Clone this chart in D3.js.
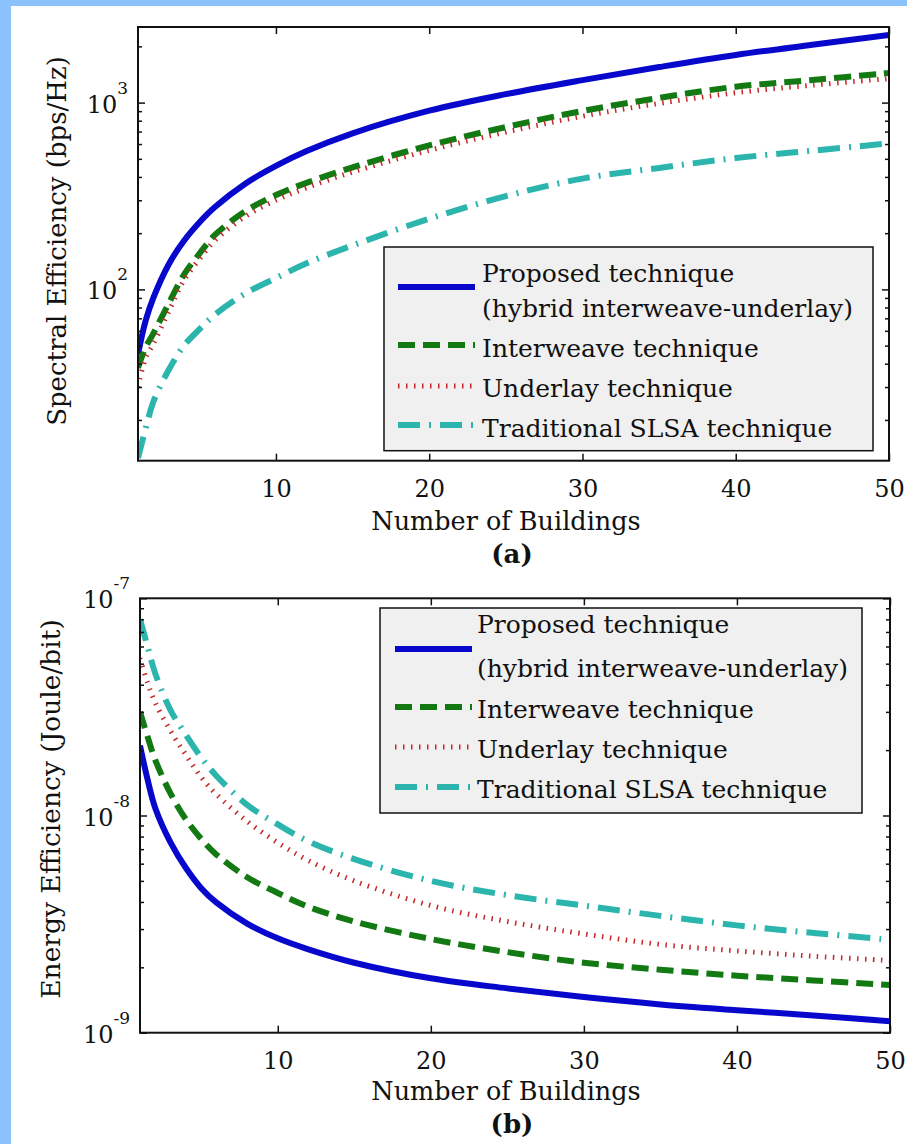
<!doctype html>
<html lang="en">
  <head>
    <meta charset="utf-8">
    <title>Spectral and Energy Efficiency vs Number of Buildings</title>
    <style>
      body { margin: 0; background: #8cc2fb; }
      text { font-family: "DejaVu Serif", "Liberation Serif", serif; fill: #111; }
      .tick line { stroke: #111; stroke-width: 1.5; }
    </style>
  </head>
  <body>
    <div id="main-chart"></div>

    <script src="https://d3js.org/d3.v7.min.js"></script>
    <script>
      // Data
      var buildings = [1, 1.5, 2, 3, 4, 5, 6, 8, 10, 12, 15, 20, 25, 30, 35, 40, 45, 50];
      var xTicks = [10, 20, 30, 40, 50];

      // (a) spectral efficiency, bps/Hz
      var seProposed    = [45, 68, 90, 136, 182, 228, 275, 368, 458, 550, 685, 905, 1110, 1320, 1550, 1800, 2040, 2300];
      var seInterweave  = [38, 49, 58, 84, 120, 155, 195, 262, 320, 372, 450, 590, 740, 902, 1060, 1216, 1321, 1440];
      var seUnderlay    = [30, 43, 51, 76, 112, 145, 182, 246, 300, 350, 425, 555, 695, 845, 990, 1130, 1240, 1345];
      var seTraditional = [12.5, 18, 25, 37, 50, 61, 73, 95, 115, 138, 172, 239, 316, 392, 447, 505, 553, 605];

      // (b) energy efficiency, Joule/bit
      var eeProposed    = [2.1e-8, 1.46e-8, 1.08e-8, 7.5e-9, 5.73e-9, 4.63e-9, 3.97e-9, 3.18e-9, 2.72e-9, 2.42e-9, 2.1e-9, 1.78e-9, 1.6e-9, 1.46e-9, 1.35e-9, 1.27e-9, 1.2e-9, 1.13e-9];
      var eeInterweave  = [3.0e-8, 2.3e-8, 1.8e-8, 1.26e-8, 9.6e-9, 7.8e-9, 6.6e-9, 5.2e-9, 4.4e-9, 3.8e-9, 3.25e-9, 2.7e-9, 2.35e-9, 2.1e-9, 1.95e-9, 1.83e-9, 1.74e-9, 1.66e-9];
      var eeUnderlay    = [5.3e-8, 4.07e-8, 3.3e-8, 2.45e-8, 1.9e-8, 1.5e-8, 1.25e-8, 9.4e-9, 7.5e-9, 6.2e-9, 5.0e-9, 3.85e-9, 3.25e-9, 2.85e-9, 2.55e-9, 2.38e-9, 2.25e-9, 2.15e-9];
      var eeTraditional = [8.0e-8, 5.98e-8, 4.5e-8, 3.05e-8, 2.35e-8, 1.85e-8, 1.52e-8, 1.12e-8, 9.1e-9, 7.6e-9, 6.3e-9, 5.0e-9, 4.3e-9, 3.85e-9, 3.45e-9, 3.12e-9, 2.88e-9, 2.68e-9];

      var legendLabels = [
        ["Proposed technique", "(hybrid interweave-underlay)"],
        ["Interweave technique"],
        ["Underlay technique"],
        ["Traditional SLSA technique"]
      ];

      // Line styles for the four techniques
      var styles = [
        {color: "#0808cc", width: 6, dash: null},
        {color: "#137a13", width: 6, dash: "17,8"},
        {color: "#c42828", width: 5, dash: "1.5,6.5"},
        {color: "#2bb5ad", width: 6, dash: "22,9,2,9"}
      ];

      var svg = d3.select("#main-chart")
        .append("svg")
        .attr("width", 907)
        .attr("height", 1144);

      // white sheet on the blue frame
      svg.append("rect")
        .attr("x", 11).attr("y", 6)
        .attr("width", 907 - 11).attr("height", 1144 - 6)
        .attr("fill", "#fff");

      function drawPanel(p) {
        var x = d3.scaleLinear().domain([1, 50]).range([p.left, p.right]);
        var y = d3.scaleLog().domain(p.yDomain).range([p.bottom, p.top]);

        var g = svg.append("g");

        // Clip
        g.append("clipPath").attr("id", p.id + "-clip")
          .append("rect")
          .attr("x", p.left).attr("y", p.top)
          .attr("width", p.right - p.left).attr("height", p.bottom - p.top);

        // Curves
        var line = d3.line()
          .x(function(d, i) { return x(buildings[i]); })
          .y(function(d) { return y(d); })
          .curve(d3.curveCatmullRom.alpha(0.5));

        var curves = g.append("g").attr("clip-path", "url(#" + p.id + "-clip)");
        p.series.forEach(function(s, i) {
          curves.append("path")
            .datum(s)
            .attr("d", line)
            .attr("fill", "none")
            .attr("stroke", styles[i].color)
            .attr("stroke-width", styles[i].width)
            .attr("stroke-dasharray", styles[i].dash)
            .attr("stroke-linejoin", "round");
        });

        // X axes, ticks pointing inward
        var minorY = y.ticks().filter(function(v) { return p.yMajor.indexOf(v) < 0; });

        var xb = g.append("g")
          .attr("transform", "translate(0," + p.bottom + ")")
          .call(d3.axisBottom(x).tickValues(xTicks).tickSize(-7));
        xb.select(".domain").remove();
        xb.selectAll("text")
          .attr("y", 36).attr("dy", null)
          .attr("font-size", "24px");

        var xt = g.append("g")
          .attr("transform", "translate(0," + p.top + ")")
          .call(d3.axisTop(x).tickValues(xTicks).tickSize(-7).tickFormat(""));
        xt.select(".domain").remove();

        // Y axes, majors and minors, both sides
        [["left", d3.axisLeft, p.left], ["right", d3.axisRight, p.right]].forEach(function(a) {
          var major = g.append("g")
            .attr("transform", "translate(" + a[2] + ",0)")
            .call(a[1](y).tickValues(p.yMajor).tickSize(-7).tickFormat(""));
          major.select(".domain").remove();
          var minor = g.append("g")
            .attr("transform", "translate(" + a[2] + ",0)")
            .call(a[1](y).tickValues(minorY).tickSize(-4).tickFormat(""));
          minor.select(".domain").remove();
        });

        // Y tick labels like 10^3
        p.yMajor.forEach(function(v) {
          var t = g.append("text")
            .attr("x", p.left - 10)
            .attr("y", y(v) + p.labelShift)
            .attr("text-anchor", "end")
            .attr("font-size", "24px");
          t.append("tspan").text("10");
          t.append("tspan")
            .attr("dy", -19)
            .attr("font-size", "17px")
            .text(String(Math.round(Math.log10(v))));
        });

        // Frame
        g.append("rect")
          .attr("x", p.left).attr("y", p.top)
          .attr("width", p.right - p.left).attr("height", p.bottom - p.top)
          .attr("fill", "none")
          .attr("stroke", "#111")
          .attr("stroke-width", 2);

        // Axis titles
        g.append("text")
          .attr("transform", "translate(" + p.yLabelX + "," + p.yLabelY + ")rotate(-90)")
          .attr("text-anchor", "middle")
          .attr("font-size", p.yLabelSize)
          .text(p.yLabel);

        g.append("text")
          .attr("x", 506).attr("y", p.xLabelY)
          .attr("text-anchor", "middle")
          .attr("font-size", "25.5px")
          .text("Number of Buildings");

        g.append("text")
          .attr("x", 512).attr("y", p.captionY)
          .attr("text-anchor", "middle")
          .attr("font-size", "26px")
          .attr("font-weight", "bold")
          .text(p.caption);

        // Legend
        var L = p.legend;
        g.append("rect")
          .attr("x", L.x0).attr("y", L.y0)
          .attr("width", L.x1 - L.x0).attr("height", L.y1 - L.y0)
          .attr("fill", "#f0f0f0")
          .attr("stroke", "#111")
          .attr("stroke-width", 1.5);

        legendLabels.forEach(function(lines, i) {
          g.append("line")
            .attr("x1", L.sampleX0).attr("x2", L.sampleX1)
            .attr("y1", L.sampleY[i]).attr("y2", L.sampleY[i])
            .attr("stroke", styles[i].color)
            .attr("stroke-width", styles[i].width)
            .attr("stroke-dasharray", styles[i].dash);
          lines.forEach(function(txt, j) {
            g.append("text")
              .attr("x", L.textX)
              .attr("y", L.baselines[i][j])
              .attr("font-size", "25px")
              .text(txt);
          });
        });
      }

      drawPanel({
        id: "a",
        left: 138, right: 889, top: 27, bottom: 460.7,
        yDomain: [12.1, 2540],
        yMajor: [100, 1000],
        labelShift: 10,
        series: [seProposed, seInterweave, seUnderlay, seTraditional],
        yLabel: "Spectral Efficiency (bps/Hz)",
        yLabelX: 66, yLabelY: 241, yLabelSize: "26px",
        xLabelY: 530, captionY: 563, caption: "(a)",
        legend: {
          x0: 384, x1: 873, y0: 247, y1: 450.7,
          sampleX0: 398, sampleX1: 475, textX: 482,
          sampleY: [287, 345, 386, 425],
          baselines: [[282, 317], [357], [397], [437]]
        }
      });

      drawPanel({
        id: "b",
        left: 140, right: 890, top: 598.3, bottom: 1032.7,
        yDomain: [1e-9, 1e-7],
        yMajor: [1e-9, 1e-8, 1e-7],
        labelShift: 10,
        series: [eeProposed, eeInterweave, eeUnderlay, eeTraditional],
        yLabel: "Energy Efficiency (Joule/bit)",
        yLabelX: 60, yLabelY: 809, yLabelSize: "26.5px",
        xLabelY: 1100, captionY: 1133, caption: "(b)",
        legend: {
          x0: 380, x1: 862, y0: 608, y1: 813,
          sampleX0: 395, sampleX1: 472, textX: 477,
          sampleY: [649, 707, 747, 787],
          baselines: [[633, 677], [718], [758], [798]]
        }
      });
    </script>
  </body>
</html>
